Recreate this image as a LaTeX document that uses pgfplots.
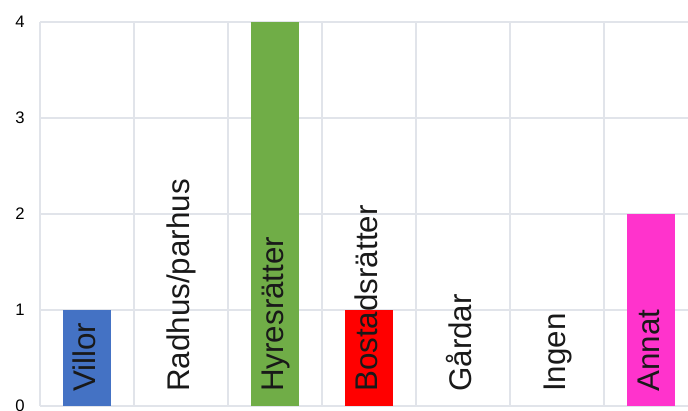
\documentclass[border=0pt]{standalone}
\usepackage{pgfplots}
\pgfplotsset{compat=1.18}
\usepackage{fontspec}
\setmainfont{Liberation Sans}
\definecolor{villor}{HTML}{4472C4}
\definecolor{hyres}{HTML}{70AD47}
\definecolor{bostad}{HTML}{FF0000}
\definecolor{annat}{HTML}{FF33CC}
\definecolor{gridgray}{HTML}{E1E4EA}
\begin{document}
\begin{tikzpicture}
\begin{axis}[
    at={(30pt,3pt)}, anchor=south west,
    scale only axis, width=486pt, height=288pt,
    xmin=-0.5, xmax=6.394, ymin=0, ymax=4,
    ybar, bar width=36pt,
    xtick={-0.5,0.5,...,5.5}, xticklabels={},
    ytick={0,1,2,3,4},
    grid=major,
    major grid style={draw=gridgray, line width=0.9pt},
    axis line style={draw=none},
    tick style={draw=none},
    yticklabel style={font=\fontsize{12.5}{15}\selectfont, anchor=east, xshift=-8pt},
    /pgf/number format/assume math mode=true,
    clip=false,
]
    \addplot[fill=villor, draw=none, bar shift=0pt] coordinates {(0,1)};
    \addplot[fill=hyres, draw=none, bar shift=0pt] coordinates {(2,4)};
    \addplot[fill=bostad, draw=none, bar shift=0pt] coordinates {(3,1)};
    \addplot[fill=annat, draw=none, bar shift=0pt] coordinates {(6,2)};
    \foreach \i/\t in {0/Villor,1/Radhus\slash parhus,2/Hyresrätter,3/Bostadsrätter,4/Gårdar,5/Ingen,6/Annat} {
        \edef\tmp{\noexpand\node[rotate=90, anchor=west, inner sep=0pt, text height=0.72em, text depth=0.2em,
            font=\noexpand\fontsize{23.5}{28}\noexpand\selectfont, text=black!90]
            at ([xshift=4pt, yshift=10.5pt]axis cs:\i,0) {\t};}
        \tmp
    }
\end{axis}
\pgfresetboundingbox
\path (0,0) rectangle (516pt,307.5pt);
\end{tikzpicture}
\end{document}
